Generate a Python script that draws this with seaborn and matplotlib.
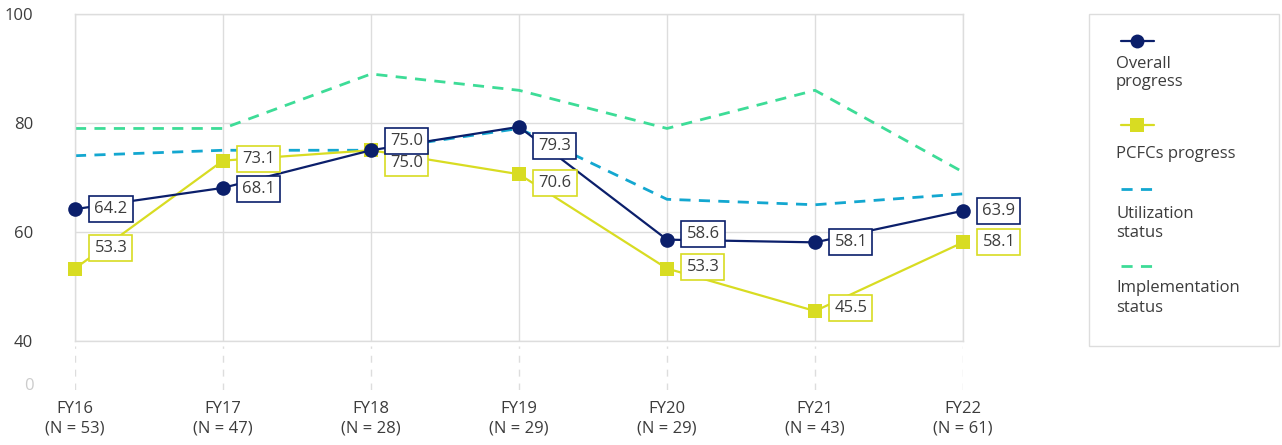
import numpy as np
import pandas as pd
import seaborn as sns
from matplotlib import pyplot as plt
from matplotlib.lines import Line2D
from matplotlib.patches import Rectangle

years = ['FY16', 'FY17', 'FY18', 'FY19', 'FY20', 'FY21', 'FY22']
n_counts = [53, 47, 28, 29, 29, 43, 61]
overall = [64.2, 68.1, 75.0, 79.3, 58.6, 58.1, 63.9]
pcfcs = [53.3, 73.1, 75.0, 70.6, 53.3, 45.5, 58.1]
utilization = [74, 75, 75, 79, 66, 65, 67]
implementation = [79, 79, 89, 86, 79, 86, 71]

NAVY = '#0b1f6b'
YELLOW = '#d8dc22'
BLUE = '#13a7d0'
GREEN = '#3ddc97'
GRID = '#dddddd'
TEXT = '#3c3c3c'
FS = 12

# label offsets in points (dy, positive up) for the value boxes
overall_dy = [0, -1, 7, -14, 4, 0, 0]
pcfcs_dy = [15, 1, -9, -6, 1, 2, 0]

sns.set_theme(style='white')
plt.rcParams['font.family'] = ['Open Sans', 'DejaVu Sans']

fig = plt.figure(figsize=(12.82, 4.45), dpi=100)
ax = fig.add_axes([0.0585, 0.2337, 0.6927, 0.7348])
ax_low = fig.add_axes([0.0585, 0.1236, 0.6927, 0.0989])

x = np.arange(len(years))
df = pd.DataFrame({'x': x, 'overall': overall, 'pcfcs': pcfcs,
                   'utilization': utilization, 'implementation': implementation})

sns.lineplot(data=df, x='x', y='implementation', ax=ax, color=GREEN, lw=2,
             linestyle=(0, (4, 3)), clip_on=False, zorder=2)
sns.lineplot(data=df, x='x', y='utilization', ax=ax, color=BLUE, lw=2,
             linestyle=(0, (4, 3)), clip_on=False, zorder=2)
sns.lineplot(data=df, x='x', y='pcfcs', ax=ax, color=YELLOW, lw=1.6,
             marker='s', markersize=9.5, markeredgewidth=0, clip_on=False, zorder=3)
sns.lineplot(data=df, x='x', y='overall', ax=ax, color=NAVY, lw=1.6,
             marker='o', markersize=10.5, markeredgewidth=0, clip_on=False, zorder=4)

for xi, v, dy in zip(x, pcfcs, pcfcs_dy):
    ax.annotate(f'{v:.1f}', (xi, v), xytext=(14, dy), textcoords='offset points',
                ha='left', va='center', fontsize=FS, color=TEXT, zorder=5,
                bbox=dict(boxstyle='square,pad=0.3', fc='white', ec=YELLOW, lw=1.2))
for xi, v, dy in zip(x, overall, overall_dy):
    ax.annotate(f'{v:.1f}', (xi, v), xytext=(14, dy), textcoords='offset points',
                ha='left', va='center', fontsize=FS, color=TEXT, zorder=6,
                bbox=dict(boxstyle='square,pad=0.3', fc='white', ec=NAVY, lw=1.2))

ax.set_xlim(0, len(years) - 1)
ax.set_ylim(40, 100)
ax.set_yticks([40, 60, 80, 100])
ax.set_xticks(x)
ax.set_xticklabels([])
ax.set_xlabel('')
ax.set_ylabel('')
ax.grid(True, color=GRID, lw=1)
for s in ax.spines.values():
    s.set_color(GRID)
    s.set_linewidth(1)
ax.tick_params(axis='y', length=0, pad=30, labelsize=FS, labelcolor=TEXT)
ax.tick_params(axis='x', length=0)

# lower stub of the broken axis
ax_low.set_xlim(0, len(years) - 1)
ax_low.set_ylim(-6, 38)
for xi in x:
    ax_low.axvline(xi, color=GRID, lw=1, linestyle=(0, (5, 5)))
ax_low.set_yticks([0])
ax_low.set_yticklabels(['0'])
ax_low.set_xticks(x)
ax_low.set_xticklabels([f'{y}\n(N = {n})' for y, n in zip(years, n_counts)],
                       fontsize=FS, color=TEXT, linespacing=1.3)
ax_low.tick_params(axis='y', length=0, pad=30, labelsize=FS, labelcolor='#cccccc')
ax_low.tick_params(axis='x', length=0, pad=8)
for s in ax_low.spines.values():
    s.set_visible(False)
ax_low.patch.set_alpha(0)

# legend panel
W, H = 1282, 445
fig.patches.append(Rectangle((1089 / W, 1 - 346 / H), 190 / W, 332 / H,
                             transform=fig.transFigure, fc='white', ec=GRID, lw=1))
entries = [
    (NAVY, '-', 'o', 10, 41, 'Overall\nprogress', 73),
    (YELLOW, '-', 's', 10, 125, 'PCFCs progress', 154),
    (BLUE, (0, (4, 3)), None, 0, 189, 'Utilization\nstatus', 223),
    (GREEN, (0, (4, 3)), None, 0, 266, 'Implementation\nstatus', 298),
]
for color, ls, mk, ms, hy, label, ty in entries:
    fig.add_artist(Line2D([1121 / W, 1154 / W], [1 - hy / H, 1 - hy / H],
                          transform=fig.transFigure, color=color, lw=2 if mk is None else 1.6,
                          linestyle=ls))
    if mk:
        fig.add_artist(Line2D([1137 / W], [1 - hy / H], transform=fig.transFigure,
                              color=color, marker=mk, markersize=ms, markeredgewidth=0))
    fig.text(1116 / W, 1 - ty / H, label, ha='left', va='center', fontsize=FS,
             color=TEXT, linespacing=1.25)

fig.savefig('out.png', dpi=100)
